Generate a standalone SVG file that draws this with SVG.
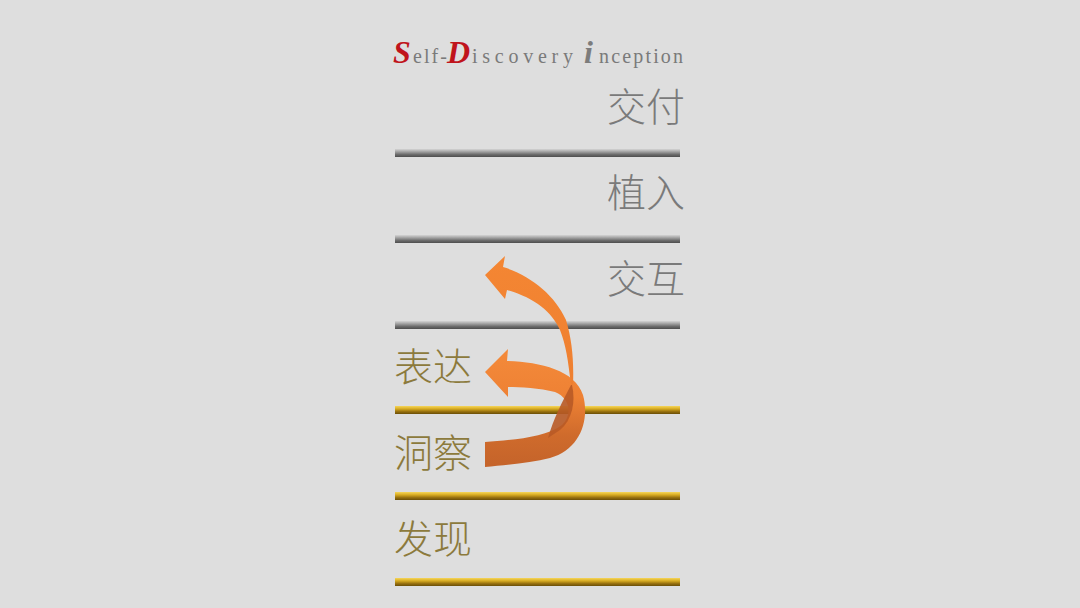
<svg xmlns="http://www.w3.org/2000/svg" width="1080" height="608" viewBox="0 0 1080 608">
  <defs>
    <linearGradient id="grayBar" x1="0" y1="0" x2="0" y2="1">
      <stop offset="0" stop-color="#d4d4d4"/>
      <stop offset="0.35" stop-color="#a0a0a0"/>
      <stop offset="0.7" stop-color="#6a6a6a"/>
      <stop offset="1" stop-color="#4e4e4e"/>
    </linearGradient>
    <linearGradient id="goldBar" x1="0" y1="0" x2="0" y2="1">
      <stop offset="0" stop-color="#f6d65a"/>
      <stop offset="0.35" stop-color="#d8ac22"/>
      <stop offset="0.7" stop-color="#97700e"/>
      <stop offset="1" stop-color="#6a4e08"/>
    </linearGradient>
    <linearGradient id="uArrow" gradientUnits="userSpaceOnUse" x1="0" y1="350" x2="0" y2="468">
      <stop offset="0" stop-color="#f48a3a"/>
      <stop offset="0.4" stop-color="#ee8134"/>
      <stop offset="0.72" stop-color="#cf6b2c"/>
      <stop offset="1" stop-color="#c4632a"/>
    </linearGradient>
    <linearGradient id="upArrow" gradientUnits="userSpaceOnUse" x1="0" y1="256" x2="0" y2="390">
      <stop offset="0" stop-color="#f48633"/>
      <stop offset="1" stop-color="#ee7f30"/>
    </linearGradient>
  </defs>
  <style>
    .gray { font-family: "Noto Sans CJK SC", "Noto Sans", sans-serif; font-size: 39px; font-weight: 300; fill: #7a7a7a; text-anchor: end; }
    .gold { font-family: "Noto Sans CJK SC", "Noto Sans", sans-serif; font-size: 39px; font-weight: 300; fill: #8c7a3c; }
    .t-small { font-family: "Liberation Serif", serif; font-size: 20px; fill: #7a7a7a; }
    .t-big { font-family: "Liberation Serif", serif; font-size: 32px; font-weight: bold; font-style: italic; }
  </style>
  <rect width="1080" height="608" fill="#dedede"/>

  <g id="title">
    <text y="63">
      <tspan class="t-big" x="393" fill="#c0141c">S</tspan>
      <tspan class="t-small" x="413" textLength="34" lengthAdjust="spacing">elf-</tspan>
      <tspan class="t-big" x="447" fill="#c0141c">D</tspan>
      <tspan class="t-small" x="472" textLength="101" lengthAdjust="spacing">iscovery</tspan>
      <tspan class="t-big" x="584" fill="#7c7c7c">i</tspan>
      <tspan class="t-small" x="599" textLength="84" lengthAdjust="spacing">nception</tspan>
    </text>
  </g>

  <g id="row-jiaofu">
    <text class="gray" x="685" y="121">交付</text>
    <rect x="395" y="149" width="285" height="8" fill="url(#grayBar)"/>
  </g>
  <g id="row-zhiru">
    <text class="gray" x="685" y="207">植入</text>
    <rect x="395" y="235" width="285" height="8" fill="url(#grayBar)"/>
  </g>
  <g id="row-jiaohu">
    <text class="gray" x="685" y="293">交互</text>
    <rect x="395" y="321" width="285" height="8" fill="url(#grayBar)"/>
  </g>
  <g id="row-biaoda">
    <text class="gold" x="394" y="381">表达</text>
    <rect x="395" y="406" width="285" height="8" fill="url(#goldBar)"/>
  </g>
  <g id="row-dongcha">
    <text class="gold" x="394" y="467">洞察</text>
    <rect x="395" y="492" width="285" height="8" fill="url(#goldBar)"/>
  </g>
  <g id="row-faxian">
    <text class="gold" x="394" y="553">发现</text>
    <rect x="395" y="578" width="285" height="8" fill="url(#goldBar)"/>
  </g>

  <g id="connectors">
    <path d="M485,372 L508,349 L507,361 C540,362 575,370 583,395 C590,420 580,450 550,458 C530,463 505,465 485,467 L485,442 C510,440 545,438 562,425 C573,415 570,398 555,392 C540,388 520,387 508,387 L508,397 Z" fill="url(#uArrow)"/>
    <path d="M485,275 L505,256 L503,267 C530,275 555,295 566,320 C572,340 574,360 573,385 L571,385 C568,360 566,345 560,330 C552,312 535,298 507,290 L505,299 Z" fill="url(#upArrow)"/>
    <path d="M572,385 C576,402 572,420 560,430 L548,438 C553,420 562,402 571,385 Z" fill="#b85a26" opacity="0.9"/>
  </g>
</svg>
